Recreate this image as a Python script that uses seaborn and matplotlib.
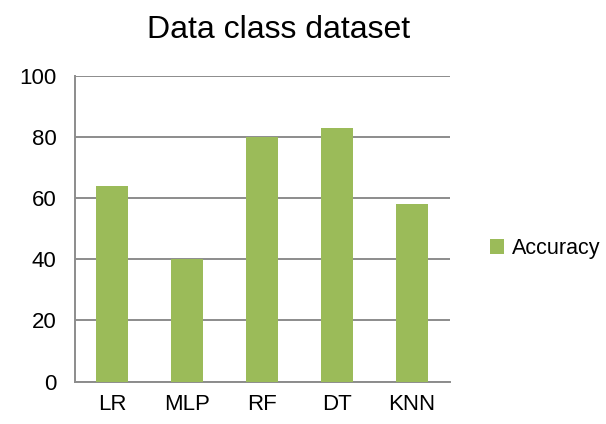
import matplotlib
matplotlib.use("Agg")
import matplotlib.pyplot as plt
import seaborn as sns
import pandas as pd
import numpy as np

# Chart data
models = ["LR", "MLP", "RF", "DT", "KNN"]
accuracy = [64, 40, 80, 83, 58]
series_name = "Accuracy"

df = pd.DataFrame({"Model": models, "Accuracy": accuracy})

sns.set_style("white")
plt.rcParams["font.family"] = ["Liberation Sans", "DejaVu Sans"]
plt.rcParams["text.color"] = "black"
plt.rcParams["xtick.color"] = "black"
plt.rcParams["ytick.color"] = "black"

fig = plt.figure(figsize=(6.06, 4.24), dpi=100)
ax = fig.add_axes([0.1233, 0.0998, 0.6187, 0.7217])

green = "#9BBB59"
grid_grey = "#8C8C8C"

sns.barplot(data=df, x="Model", y="Accuracy", color=green, width=0.42,
            saturation=1, linewidth=0, ax=ax, label=series_name, zorder=3)

ax.set_ylim(0, 100)
ax.set_xlim(-0.5, len(models) - 0.5)
ax.set_yticks(np.arange(0, 101, 20))
ax.yaxis.grid(True, color=grid_grey, linewidth=1.4, zorder=0)
ax.set_axisbelow(True)

# category boundary ticks like Excel
ax.set_xticks(np.arange(-0.5, len(models), 1.0), minor=True)
ax.tick_params(axis="x", which="minor", length=6, width=1.4, color=grid_grey, direction="out")
ax.tick_params(axis="x", which="major", length=0, labelsize=16, pad=9)
ax.tick_params(axis="y", which="major", length=7, width=1.4, color=grid_grey,
               direction="out", labelsize=16, pad=6)

for side in ["top", "right"]:
    ax.spines[side].set_visible(False)
for side in ["left", "bottom"]:
    ax.spines[side].set_color(grid_grey)
    ax.spines[side].set_linewidth(1.4)

ax.set_xlabel("")
ax.set_ylabel("")
fig.suptitle("Data class dataset", x=0.46, y=0.965, fontsize=23)

leg = ax.legend(loc="center left", bbox_to_anchor=(1.073, 0.435), frameon=False,
                fontsize=15.5, handlelength=0.65, handleheight=0.65, handletextpad=0.35,
                borderaxespad=0.2)

fig.savefig("out.png", dpi=100)
